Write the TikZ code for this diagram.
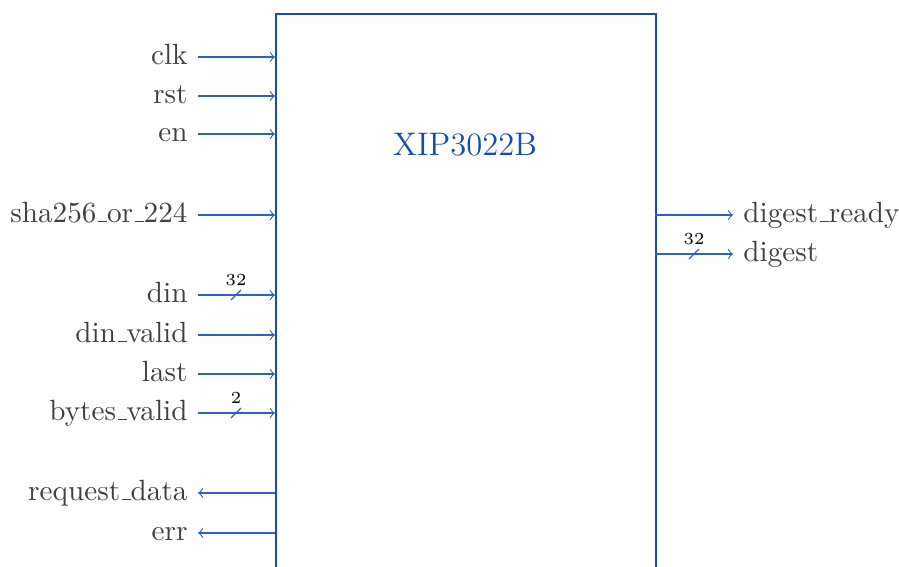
\documentclass[tikz,border=0pt]{standalone}
\usepackage{tikz}
\usetikzlibrary{arrows}
\definecolor{coreblue}{RGB}{16,76,186}
\definecolor{wireblue}{RGB}{44,98,196}
\definecolor{labelgray}{RGB}{64,64,64}
\newcommand{\us}{\leavevmode\kern.06em\vbox{\hrule width.3em}}
\tikzset{
  core/.style={draw=coreblue, line width=0.8pt, minimum width=4.75cm,
    minimum height=8cm, anchor=north west, inner sep=0},
  sig/.style={text=labelgray, inner sep=0, outer sep=3.7pt,
    font=\fontsize{10.4}{12}\selectfont, text height=7pt, text depth=2pt},
  wire/.style={draw=wireblue, line width=0.4pt},
  buslbl/.style={font=\fontsize{6}{7}\selectfont, inner sep=0}
}
% input on the left edge of the core
\newcommand{\insig}[3]{\coordinate (#1p) at (275,#3);
  \node[sig, anchor=east] (#1) at (198,#3) {#2};
  \draw[wire, -to] (#1) -- (#1p)}
% output from the left edge back out
\newcommand{\outsig}[3]{\coordinate (#1p) at (275,#3);
  \node[sig, anchor=east] (#1) at (198,#3) {#2};
  \draw[wire, -to] (#1p) -- (#1)}
% bus width mark
\newcommand{\busmark}[3]{\draw[wire] (#1-5,#2+5) -- (#1+5,#2-5);
  \node[buslbl] at (#1,#2-15) {#3}}

\begin{document}
\begin{tikzpicture}[x=0.0125cm, y=-0.0125cm]
\useasboundingbox (0,0) rectangle (899,566);
\clip (0,0) rectangle (899,566);
\node[core] (xip) at (275,13) {};
\node[text=coreblue, font=\fontsize{11.6}{13}\selectfont] (title) at (465,145) {XIP3022B};
%
\insig{clk}{clk}{57};
\insig{rst}{rst}{96};
\insig{en}{en}{134};
\insig{sha}{sha256\us or\us 224}{215};
\insig{din}{din}{295};
\busmark{236}{295}{32};
\insig{dinv}{din\us valid}{335};
\insig{last}{last}{374};
\insig{bval}{bytes\us valid}{413};
\busmark{236}{413}{2};
\outsig{req}{request\us data}{493};
\outsig{err}{err}{533};
%
\coordinate (rdyp) at (655,215);
\node[sig, anchor=west] (rdy) at (733,215) {digest\us ready};
\draw[wire, -to] (rdyp) -- (rdy);
\coordinate (dgstp) at (655,254);
\node[sig, anchor=west] (dgst) at (733,254) {digest};
\draw[wire, -to] (dgstp) -- (dgst);
\busmark{694}{254}{32};
\end{tikzpicture}
\end{document}
